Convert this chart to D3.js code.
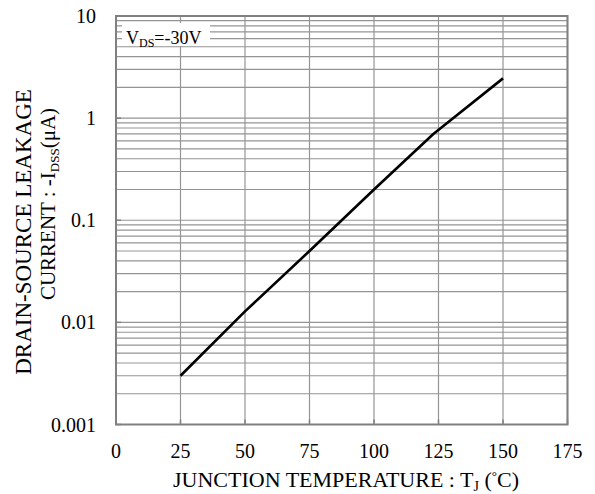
<!DOCTYPE html>
<html><head><meta charset="utf-8">
<script src="https://cdn.jsdelivr.net/npm/d3@7"></script>
<style>body{margin:0;background:#fff}svg{display:block}text{font-family:"Liberation Serif","Times New Roman",serif;fill:#000}</style>
</head><body>
<script>
const temps = [25, 50, 75, 100, 123, 150];
const leakage = [0.003, 0.0128, 0.05, 0.2, 0.7, 2.45];
const xTicks = [0, 25, 50, 75, 100, 125, 150, 175];
const yTicks = [10, 1, 0.1, 0.01, 0.001];
const yTickLabels = ["10", "1", "0.1", "0.01", "0.001"];

const W = 595, H = 494;
const m = {left: 116, right: 567.5, top: 16, bottom: 424.5};
const svg = d3.select("body").append("svg").attr("width", W).attr("height", H);
const x = d3.scaleLinear().domain([0, 175]).range([m.left, m.right]);
const y = d3.scaleLog().domain([0.001, 10]).range([m.bottom, m.top]);

const grid = svg.append("g");
grid.selectAll("line.h").data(y.ticks()).join("line")
  .attr("x1", m.left).attr("x2", m.right)
  .attr("y1", d => y(d)).attr("y2", d => y(d))
  .attr("stroke", "#959595").attr("stroke-width", 1.2);
grid.selectAll("line.v").data(xTicks).join("line")
  .attr("x1", d => x(d)).attr("x2", d => x(d))
  .attr("y1", m.top).attr("y2", m.bottom)
  .attr("stroke", "#959595").attr("stroke-width", 1.2);
grid.selectAll("line.tx").data(xTicks).join("line")
  .attr("x1", d => x(d)).attr("x2", d => x(d))
  .attr("y1", m.bottom - 5).attr("y2", m.bottom)
  .attr("stroke", "#808080").attr("stroke-width", 1.5);
grid.selectAll("line.ty").data(yTicks).join("line")
  .attr("x1", m.left).attr("x2", m.left + 5)
  .attr("y1", d => y(d)).attr("y2", d => y(d))
  .attr("stroke", "#808080").attr("stroke-width", 1.5);

// legend box
svg.append("rect").attr("x", 122).attr("y", 23).attr("width", 88).attr("height", 23).attr("fill", "#fff");
const lt = svg.append("text").attr("x", 126).attr("y", 44).attr("font-size", 18);
lt.append("tspan").text("V");
lt.append("tspan").attr("font-size", 12).attr("dy", 3).text("DS");
lt.append("tspan").attr("dy", -3).text("=-30V");

// border
svg.append("rect").attr("x", m.left).attr("y", m.top)
  .attr("width", m.right - m.left).attr("height", m.bottom - m.top)
  .attr("fill", "none").attr("stroke", "#808080").attr("stroke-width", 2);

// curve
const line = d3.line().x((d, i) => x(temps[i])).y(d => y(d));
svg.append("path").datum(leakage).attr("d", line)
  .attr("fill", "none").attr("stroke", "#000").attr("stroke-width", 2.6)
  .attr("stroke-linejoin", "round");

// tick labels
svg.append("g").selectAll("text").data(xTicks).join("text")
  .attr("x", d => x(d)).attr("y", 458).attr("text-anchor", "middle")
  .attr("font-size", 20).text(d => d);
svg.append("g").selectAll("text").data(yTicks).join("text")
  .attr("x", 96).attr("y", d => y(d) + 7).attr("text-anchor", "end")
  .attr("font-size", 20).text((d, i) => yTickLabels[i]);

// x title
const xt = svg.append("text").attr("x", 346).attr("y", 487).attr("text-anchor", "middle").attr("font-size", 22);
xt.append("tspan").text("JUNCTION TEMPERATURE : T");
xt.append("tspan").attr("font-size", 14).attr("dy", 4).text("J");
xt.append("tspan").attr("dy", -4).text(" (");
xt.append("tspan").attr("font-size", 13).attr("dy", -7).text("°");
xt.append("tspan").attr("dy", 7).text("C)");

// y title
svg.append("text").attr("transform", "translate(31,232) rotate(-90)")
  .attr("text-anchor", "middle").attr("font-size", 23).text("DRAIN-SOURCE LEAKAGE");
const yt = svg.append("text").attr("transform", "translate(55,204) rotate(-90)")
  .attr("text-anchor", "middle").attr("font-size", 21);
yt.append("tspan").text("CURRENT : -I");
yt.append("tspan").attr("font-size", 13).attr("dy", 4).text("DSS");
yt.append("tspan").attr("dy", -4).text("(μA)");
</script>
</body></html>
